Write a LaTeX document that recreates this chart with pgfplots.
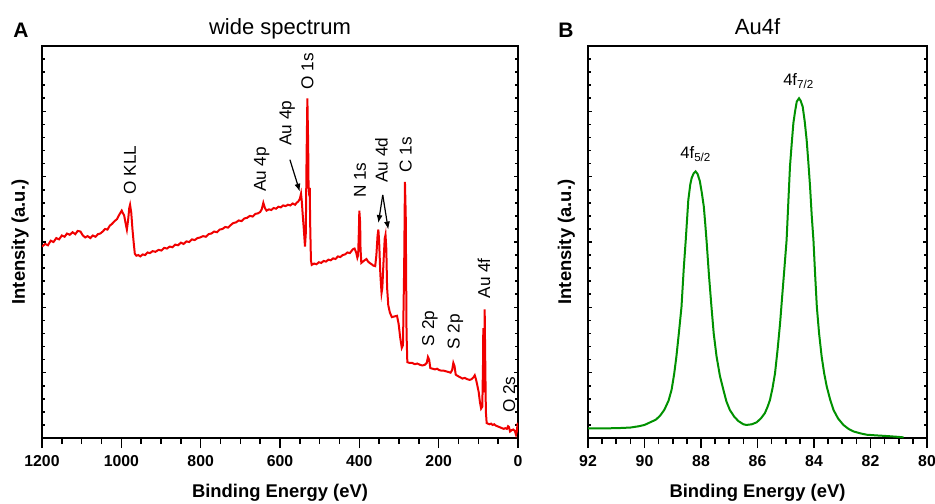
\documentclass[border=0pt]{standalone}
\usepackage{fontspec}
\setmainfont{Liberation Sans}
\usepackage{pgfplots}
\pgfplotsset{compat=1.18}
\usetikzlibrary{arrows.meta}

\definecolor{specred}{RGB}{240,0,0}
\definecolor{specgreen}{RGB}{0,145,0}

\pgfplotsset{
  xps/.style={
    scale only axis,
    height=196pt,
    axis line style={line width=0.9pt},
    x dir=reverse,
    ymin=0, ymax=6,
    ytick={0,...,6}, yticklabels={},
    minor y tick num=4,
    minor x tick num=3,
    xtick pos=left, ytick pos=both,
    xtick align=outside, ytick align=inside,
    major tick length=2.2pt, minor tick length=1.4pt,
    tick style={black, line width=0.8pt},
    xtick style={/pgfplots/major tick length=5pt, /pgfplots/minor tick length=3pt},
    /pgf/number format/assume math mode=true,
    /pgf/number format/1000 sep={},
    xticklabel={\textbf{\pgfmathprintnumber{\tick}}},
    xticklabel style={font=\fontsize{7.9}{9}\selectfont\bfseries, yshift=-3pt},
    label style={font=\fontsize{9.2}{10}\selectfont\bfseries},
    xlabel={Binding Energy (eV)},
    ylabel={Intensity (a.u.)},
    xlabel style={at={(axis description cs:0.5,0)}, anchor=base, yshift=-29.5pt},
    title style={at={(axis description cs:0.5,1)}, anchor=base, yshift=0pt,
      font=\fontsize{11}{12}\selectfont},
  },
}
\tikzset{
  peak/.style={rotate=90, anchor=west, inner sep=1pt, font=\fontsize{8.6}{9}\selectfont},
  arr/.style={-{Latex[length=4pt,width=3pt]}, line width=0.6pt},
  panel/.style={anchor=base west, inner sep=0pt, font=\fontsize{10.5}{12}\selectfont\bfseries},
}

\begin{document}
\begin{tikzpicture}

% A: wide spectrum
\begin{axis}[xps, name=left, at={(0,0)}, anchor=south west,
  width=238pt,
  xmin=0, xmax=1200, xtick={0,200,...,1200},
  ylabel style={at={(axis description cs:-0.046,0.5)}, anchor=center},
  title={wide spectrum}]
\addplot[specred, line width=1pt] table {
1200 2.93
1192 2.97
1185 2.95
1178 3.02
1171 3.00
1164 3.06
1157 3.04
1150 3.10
1143 3.08
1137 3.13
1130 3.11
1123 3.15
1116 3.12
1110 3.17
1103 3.16
1097 3.10
1091 3.07
1085 3.09
1078 3.06
1072 3.10
1065 3.08
1059 3.12
1053 3.13
1047 3.16
1041 3.20
1035 3.19
1029 3.25
1023 3.28
1017 3.32
1011 3.35
1005 3.42
999 3.48
996 3.44
993 3.41
989 3.28
986 3.19
983 3.33
980 3.52
978 3.57
975 3.45
972 3.20
969 3.00
966 2.82
962 2.79
957 2.80
952 2.78
946 2.81
940 2.80
934 2.84
928 2.83
921 2.86
914 2.85
906 2.88
899 2.87
892 2.91
885 2.90
878 2.93
871 2.92
864 2.96
857 2.95
850 2.99
843 2.97
836 3.01
829 3.00
822 3.04
815 3.03
808 3.06
801 3.07
794 3.09
787 3.08
780 3.12
773 3.13
766 3.16
759 3.15
752 3.19
745 3.20
738 3.23
731 3.22
724 3.26
718 3.29
711 3.30
704 3.33
697 3.32
690 3.36
683 3.37
676 3.40
669 3.39
662 3.43
655 3.44
650 3.46
646 3.50
642 3.60
638 3.52
634 3.48
628 3.50
622 3.49
616 3.52
610 3.51
604 3.54
598 3.53
592 3.56
586 3.55
580 3.57
574 3.56
568 3.59
562 3.57
558 3.60
554 3.62
550 3.66
547 3.74
545 3.62
543 3.44
540 3.20
537 2.93
535 3.13
533 4.30
531 5.20
529 4.50
528 3.85
526 3.70
525 3.83
524 3.30
522 2.72
520 2.65
514 2.67
508 2.66
502 2.69
496 2.68
490 2.71
484 2.70
478 2.73
472 2.72
466 2.75
460 2.74
454 2.78
448 2.77
442 2.80
436 2.81
430 2.84
424 2.83
420 2.86
416 2.89
412 2.90
408 2.84
405 2.76
403 2.80
401 3.20
400 3.48
398 3.30
397 2.90
395 2.68
391 2.70
387 2.72
382 2.74
378 2.70
374 2.68
369 2.66
365 2.64
360 2.63
357 2.80
354 3.10
352 3.19
350 3.00
347 2.50
344 2.22
342 2.30
339 2.70
336 3.05
334 3.11
332 2.90
330 2.30
327 2.03
323 1.92
318 1.85
312 1.86
305 1.87
301 1.75
297 1.54
293 1.38
290 1.42
287 2.60
285 3.92
283 3.40
281 1.60
279 1.16
274 1.15
267 1.15
260 1.13
254 1.14
247 1.12
241 1.11
235 1.12
230 1.15
227 1.24
224 1.20
221 1.07
215 1.06
209 1.05
204 1.06
199 1.04
193 1.03
187 1.03
181 1.02
175 1.01
170 1.00
166 1.04
163 1.15
160 1.10
157 0.97
152 0.95
146 0.93
140 0.91
134 0.92
128 0.90
122 0.89
117 0.90
112 0.93
109 0.96
106 0.90
103 0.82
99 0.70
96 0.55
93 0.45
90 0.48
88 1.20
87.5 1.68
86.5 0.90
85.5 0.70
84.5 1.60
84 1.97
83 1.40
81 0.40
79 0.23
76 0.22
72 0.21
68 0.22
64 0.20
60 0.21
56 0.19
52 0.18
48 0.17
44 0.16
40 0.15
36 0.14
32 0.15
28 0.14
25 0.18
23 0.17
20 0.10
16 0.12
12 0.13
8 0.11
5 0.05
3 0.10
1 0.22
0 0.23
};
\node[peak] at (978,3.69) {O KLL};
\node[peak] at (646,3.73) {Au 4p};
\node[peak] at (582,4.44) {Au 4p};
\draw[arr] (575,4.26) -- (550,3.77);
\node[peak] at (531,5.30) {O 1s};
\node[peak] at (398,3.64) {N 1s};
\node[peak] at (344,3.87) {Au 4d};
\draw[arr] (341,3.72) -- (352,3.29);
\draw[arr] (341,3.72) -- (327,3.19);
\node[peak] at (283,4.03) {C 1s};
\node[peak] at (222,1.37) {S 2p};
\node[peak] at (158,1.32) {S 2p};
\node[peak] at (86,2.10) {Au 4f};
\node[peak] at (22,0.35) {O 2s};
\end{axis}
\node[panel, xshift=-14.5pt, yshift=4.5pt] at (left.north west) {A};

% B: Au4f
\begin{axis}[xps, name=right, at={(273pt,0)}, anchor=south west,
  width=169.5pt,
  xmin=80, xmax=92, xtick={80,82,...,92},
  ylabel style={at={(axis description cs:-0.064,0.5)}, anchor=center},
  title={Au4f}]
\addplot[specgreen, line width=1pt] table {
92 0.148
91.5 0.148
91 0.150
90.5 0.160
90.2 0.18
90.0 0.20
89.8 0.24
89.6 0.28
89.45 0.34
89.3 0.43
89.15 0.57
89.04 0.74
88.95 0.98
88.87 1.25
88.78 1.62
88.69 2.01
88.61 2.60
88.54 3.03
88.45 3.64
88.38 3.88
88.33 3.98
88.26 4.05
88.19 4.08
88.12 4.04
88.04 3.93
87.97 3.75
87.90 3.54
87.85 3.28
87.80 3.00
87.72 2.50
87.63 2.01
87.55 1.60
87.45 1.25
87.33 0.95
87.21 0.74
87.10 0.56
86.98 0.43
86.83 0.33
86.68 0.26
86.50 0.21
86.39 0.20
86.20 0.21
86.03 0.24
85.88 0.30
85.74 0.38
85.65 0.47
85.56 0.58
85.47 0.76
85.38 0.99
85.29 1.35
85.20 1.76
85.13 2.15
85.06 2.53
84.97 3.03
84.91 3.60
84.85 4.16
84.79 4.50
84.73 4.82
84.67 5.00
84.61 5.15
84.53 5.20
84.47 5.16
84.40 5.07
84.33 4.85
84.26 4.56
84.20 4.22
84.14 3.85
84.08 3.40
84.02 3.03
83.96 2.50
83.90 2.01
83.82 1.60
83.73 1.25
83.64 0.99
83.55 0.79
83.43 0.59
83.31 0.43
83.15 0.30
82.96 0.20
82.78 0.14
82.60 0.10
82.35 0.07
82.13 0.05
81.80 0.04
81.42 0.03
81.10 0.02
80.83 0.01
};
\node[font=\fontsize{8.3}{9}\selectfont] at (84.54,5.46) {4f\textsubscript{7/2}};
\node[font=\fontsize{8.3}{9}\selectfont] at (88.18,4.35) {4f\textsubscript{5/2}};
\end{axis}
\node[panel, xshift=-15pt, yshift=4.5pt] at (right.north west) {B};

\pgfresetboundingbox
\path[use as bounding box] (-21pt,-32.5pt) rectangle (446.5pt,219pt);
\end{tikzpicture}
\end{document}
